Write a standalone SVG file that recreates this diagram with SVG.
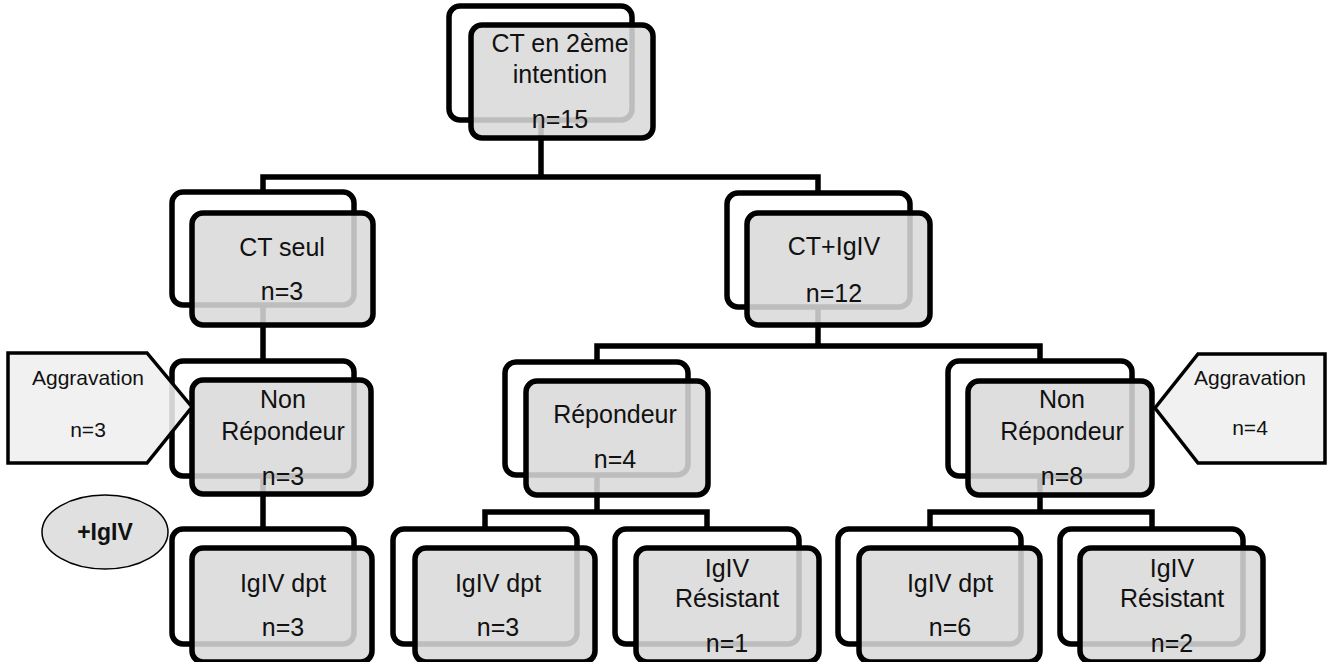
<svg xmlns="http://www.w3.org/2000/svg" width="1328" height="662" viewBox="0 0 1328 662">
<style>
.bk{fill:none;stroke:#000;stroke-width:5.5}
.fr{fill:#d9d9d9;fill-opacity:0.87;stroke:#000;stroke-width:5.5}
.t{font-family:"Liberation Sans",Arial,sans-serif;font-size:25px;fill:#111;text-anchor:middle}
.c{fill:none;stroke:#000;stroke-width:5.5;stroke-linejoin:miter}
.co{fill:#efefef;fill-opacity:0.88;stroke:#000;stroke-width:3.5;stroke-linejoin:miter}
.ct{font-family:"Liberation Sans",Arial,sans-serif;font-size:21px;fill:#111;text-anchor:middle}
</style>
<g id="connectors">
<path class="c" d="M541,120 V177 M263,192 V177 H818 V192"/>
<path class="c" d="M263,305 V362"/>
<path class="c" d="M818,305 V346 M597,362 V346 H1040 V362"/>
<path class="c" d="M263,476 V529"/>
<path class="c" d="M597,475 V512 M485,529 V512 H707 V529"/>
<path class="c" d="M1040,476 V512 M930,529 V512 H1152 V529"/>
</g>
<g id="n-top">
<rect class="bk" x="449" y="6" width="183" height="114" rx="11"/>
<rect class="fr" x="471" y="25" width="182" height="113" rx="11"/>
<text class="t" x="560" y="52">CT en 2ème</text>
<text class="t" x="560" y="83">intention</text>
<text class="t" x="560" y="128">n=15</text>
</g>
<g id="n-ctseul">
<rect class="bk" x="172" y="192" width="182" height="113" rx="11"/>
<rect class="fr" x="192" y="213" width="181" height="112" rx="11"/>
<text class="t" x="282" y="256">CT seul</text>
<text class="t" x="282" y="300">n=3</text>
</g>
<g id="n-ctigiv">
<rect class="bk" x="727" y="193" width="183" height="114" rx="11"/>
<rect class="fr" x="747" y="213" width="183" height="112" rx="11"/>
<text class="t" x="834" y="255">CT+IgIV</text>
<text class="t" x="834" y="302">n=12</text>
</g>
<g id="n-nonrep-l">
<rect class="bk" x="172" y="361" width="182" height="115" rx="11"/>
<rect class="fr" x="192" y="380" width="179" height="114" rx="11"/>
<text class="t" x="283" y="408">Non</text>
<text class="t" x="283" y="440">Répondeur</text>
<text class="t" x="283" y="485">n=3</text>
</g>
<g id="n-rep">
<rect class="bk" x="505" y="362" width="183" height="113" rx="11"/>
<rect class="fr" x="526" y="381" width="182" height="114" rx="11"/>
<text class="t" x="615" y="423">Répondeur</text>
<text class="t" x="615" y="468">n=4</text>
</g>
<g id="n-nonrep-r">
<rect class="bk" x="948" y="361" width="184" height="115" rx="11"/>
<rect class="fr" x="968" y="381" width="184" height="114" rx="11"/>
<text class="t" x="1062" y="408">Non</text>
<text class="t" x="1062" y="440">Répondeur</text>
<text class="t" x="1062" y="485">n=8</text>
</g>
<g id="n-dpt1">
<rect class="bk" x="172" y="529" width="182" height="115" rx="11"/>
<rect class="fr" x="192" y="548" width="180" height="114" rx="11"/>
<text class="t" x="283" y="592">IgIV dpt</text>
<text class="t" x="283" y="636">n=3</text>
</g>
<g id="n-dpt2">
<rect class="bk" x="393" y="529" width="184" height="115" rx="11"/>
<rect class="fr" x="415" y="548" width="180" height="114" rx="11"/>
<text class="t" x="498" y="592">IgIV dpt</text>
<text class="t" x="498" y="636">n=3</text>
</g>
<g id="n-res1">
<rect class="bk" x="615" y="529" width="184" height="115" rx="11"/>
<rect class="fr" x="636" y="548" width="183" height="114" rx="11"/>
<text class="t" x="727" y="577">IgIV</text>
<text class="t" x="727" y="607">Résistant</text>
<text class="t" x="727" y="652">n=1</text>
</g>
<g id="n-dpt3">
<rect class="bk" x="838" y="529" width="183" height="115" rx="11"/>
<rect class="fr" x="859" y="548" width="181" height="114" rx="11"/>
<text class="t" x="950" y="592">IgIV dpt</text>
<text class="t" x="950" y="636">n=6</text>
</g>
<g id="n-res2">
<rect class="bk" x="1060" y="529" width="183" height="115" rx="11"/>
<rect class="fr" x="1080" y="548" width="183" height="114" rx="11"/>
<text class="t" x="1172" y="577">IgIV</text>
<text class="t" x="1172" y="607">Résistant</text>
<text class="t" x="1172" y="652">n=2</text>
</g>
<g id="callout-l">
<polygon class="co" points="8,353 147,353 192,407 147,463 8,463"/>
<text class="ct" x="88" y="385">Aggravation</text>
<text class="ct" x="88" y="437">n=3</text>
</g>
<g id="callout-r">
<polygon class="co" points="1325,354 1198,354 1155,408 1198,463 1325,463"/>
<text class="ct" x="1250" y="385">Aggravation</text>
<text class="ct" x="1250" y="435">n=4</text>
</g>
<g id="n-igiv">
<ellipse cx="105" cy="532" rx="63" ry="37" fill="#e0e0e0" stroke="#000" stroke-width="1.5"/>
<text x="105" y="540" font-family="Liberation Sans,Arial,sans-serif" font-size="23" font-weight="bold" text-anchor="middle" fill="#111">+IgIV</text>
</g>
</svg>
